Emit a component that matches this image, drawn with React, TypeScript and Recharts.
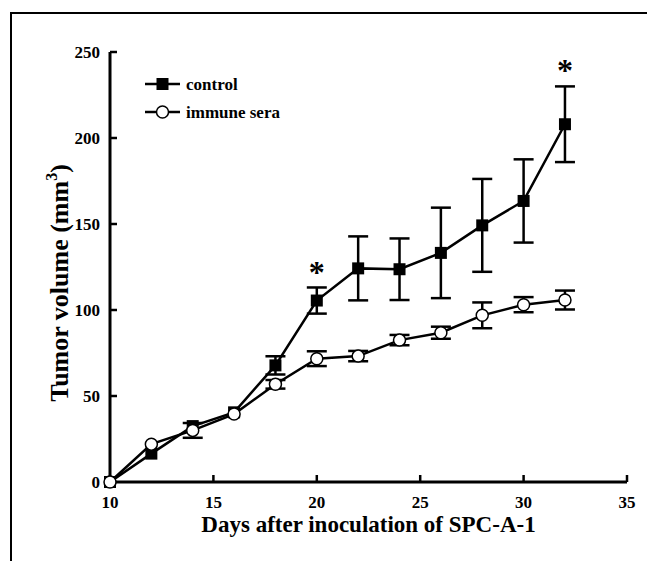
import { ComposedChart, Line, Scatter, XAxis, YAxis, ErrorBar } from 'recharts';

// Tumor volume (mm3) per day, mean and error
const days = [10, 12, 14, 16, 18, 20, 22, 24, 26, 28, 30, 32];
const controlMean = [0, 16.5, 32.5, 40.5, 67.8, 105.5, 124.2, 123.7, 133.2, 149.2, 163.4, 208];
const controlErr = [0, 0, 0, 0, 5.3, 7.6, 18.6, 17.9, 26.3, 27, 24.2, 22];
const seraMean = [0, 22, 30, 39.5, 56.8, 71.7, 73.2, 82.5, 86.8, 96.9, 103.1, 105.8];
const seraErr = [0, 0, 4.3, 0, 2.5, 4.3, 3, 3, 3.5, 7.5, 4.4, 5.5];

// significance marks
const starDays = [20, 32];
const starValues = [124.2, 242];

const xTicks = [10, 15, 20, 25, 30, 35];
const yTicks = [0, 50, 100, 150, 200, 250];

const seriesNames = ['control', 'immune sera'];

const controlData = days.map((d, i) => ({ day: d, mean: controlMean[i], err: controlErr[i] }));
const seraData = days.map((d, i) => ({ day: d, mean: seraMean[i], err: seraErr[i] }));
const starData = starDays.map((d, i) => ({ day: d, v: starValues[i] }));

const FONT = "'Liberation Serif', 'Times New Roman', serif";
const tickStyle = { fill: '#000', fontFamily: FONT, fontWeight: 700, fontSize: 17 };

const SquareDot = (props: any) => {
  const { cx, cy, index } = props;
  if (cx == null || cy == null) return null;
  return <rect key={`sq-${index}`} x={cx - 6} y={cy - 6} width={12} height={12} fill="#000" />;
};

const StarShape = (props: any) => {
  const { cx, cy } = props;
  return (
    <text x={cx} y={cy + 15} textAnchor="middle" fontFamily={FONT} fontWeight={700} fontSize={32} fill="#000">
      *
    </text>
  );
};

// legend drawn as an overlay so it does not shrink the plot
const LegendBox = () => (
  <svg width={200} height={52} style={{ position: 'absolute', left: 137, top: 66 }}>
    <line x1={0} y1={10} x2={35} y2={10} stroke="#000" strokeWidth={2.5} />
    <rect x={11.5} y={4} width={12} height={12} fill="#000" />
    <text x={41} y={15.5} fontFamily={FONT} fontWeight={700} fontSize={17} fill="#000">{seriesNames[0]}</text>
    <line x1={0} y1={38} x2={35} y2={38} stroke="#000" strokeWidth={2.5} />
    <circle cx={17.5} cy={38} r={6} fill="#fff" stroke="#000" strokeWidth={1.5} />
    <text x={41} y={43.5} fontFamily={FONT} fontWeight={700} fontSize={17} fill="#000">{seriesNames[1]}</text>
  </svg>
);

const YTitle = ({ viewBox }: any) => {
  const x = viewBox.x + 60;
  const y = viewBox.y + viewBox.height / 2 + 16;
  return (
    <text x={x} y={y} transform={`rotate(-90 ${x} ${y})`} textAnchor="middle"
      fontFamily={FONT} fontWeight={700} fontSize={26} fill="#000">
      Tumor volume (mm<tspan dy={-11} fontSize={16}>3</tspan><tspan dy={11}>)</tspan>
    </text>
  );
};

const XTitle = ({ viewBox }: any) => {
  const x = viewBox.x + viewBox.width / 2;
  const y = viewBox.y + 50;
  return (
    <text x={x} y={y} textAnchor="middle" fontFamily={FONT} fontWeight={700} fontSize={23} fill="#000">
      Days after inoculation of SPC-A-1
    </text>
  );
};

export default function App() {
  return (
    <div style={{ position: 'relative', width: 647, height: 553 }}>
      <div style={{
        position: 'absolute', left: 2, top: 4, right: 0, bottom: 0,
        borderLeft: '2px solid #000', borderTop: '2px solid #000',
      }} />
      <ComposedChart width={647} height={553} margin={{ top: 44, right: 28, bottom: 0, left: 0 }}
        style={{ position: 'absolute', left: 0, top: 0 }}>
        <XAxis
          dataKey="day"
          type="number"
          domain={[10, 35]}
          ticks={xTicks}
          allowDuplicatedCategory={false}
          height={79}
          tick={tickStyle}
          tickSize={-7}
          tickMargin={21}
          axisLine={{ stroke: '#000', strokeWidth: 3 }}
          tickLine={{ stroke: '#000', strokeWidth: 2.5 }}
          label={<XTitle />}
        />
        <YAxis
          type="number"
          domain={[0, 250]}
          ticks={yTicks}
          width={102}
          tick={tickStyle}
          tickSize={-7}
          tickMargin={17}
          axisLine={{ stroke: '#000', strokeWidth: 3 }}
          tickLine={{ stroke: '#000', strokeWidth: 2.5 }}
          label={<YTitle />}
        />
        <Line
          data={controlData}
          dataKey="mean"
          name={seriesNames[0]}
          stroke="#000"
          strokeWidth={2.5}
          dot={SquareDot}
          activeDot={false}
          isAnimationActive={false}
        >
          <ErrorBar dataKey="err" direction="y" width={10} stroke="#000" strokeWidth={2.5} />
        </Line>
        <Line
          data={seraData}
          dataKey="mean"
          name={seriesNames[1]}
          stroke="#000"
          strokeWidth={2.5}
          dot={{ r: 6, fill: '#fff', stroke: '#000', strokeWidth: 1.5 }}
          activeDot={false}
          isAnimationActive={false}
        >
          <ErrorBar dataKey="err" direction="y" width={10} stroke="#000" strokeWidth={2.5} />
        </Line>
        <Scatter data={starData} dataKey="v" shape={StarShape} legendType="none" isAnimationActive={false} />
      </ComposedChart>
      <LegendBox />
    </div>
  );
}
